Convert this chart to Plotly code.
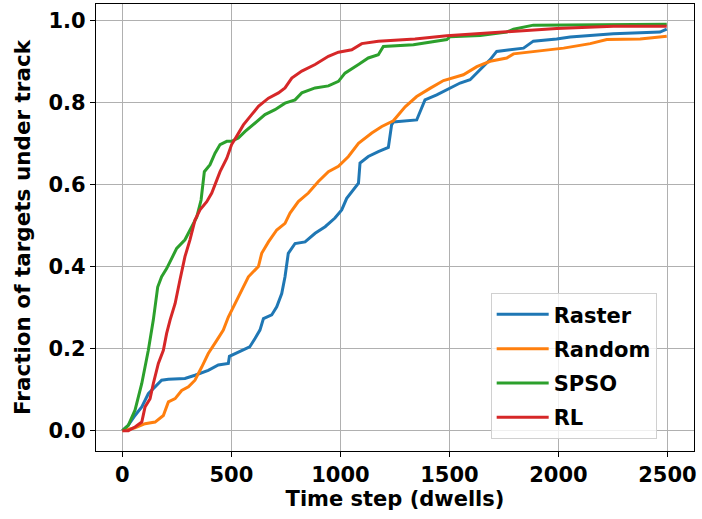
import plotly.graph_objects as go

raster_x = [0, 27, 58, 89, 119, 150, 180, 211, 287, 333, 394, 440, 486, 491, 532, 584, 609, 631, 647, 685, 708, 731, 746, 761, 792, 838, 884, 930, 975, 1006, 1029, 1083, 1090, 1128, 1174, 1220, 1235, 1243, 1350, 1388, 1442, 1488, 1549, 1595, 1641, 1687, 1717, 1840, 1885, 1992, 2054, 2252, 2466, 2497]
raster_y = [0, 0.013, 0.037, 0.058, 0.09, 0.107, 0.123, 0.125, 0.127, 0.135, 0.147, 0.16, 0.164, 0.181, 0.192, 0.204, 0.225, 0.245, 0.273, 0.282, 0.302, 0.334, 0.375, 0.432, 0.456, 0.46, 0.481, 0.497, 0.518, 0.538, 0.566, 0.603, 0.652, 0.668, 0.68, 0.69, 0.745, 0.752, 0.757, 0.806, 0.818, 0.83, 0.847, 0.855, 0.879, 0.904, 0.924, 0.932, 0.949, 0.954, 0.959, 0.967, 0.971, 0.978]

random_x = [0, 58, 104, 150, 188, 211, 242, 272, 303, 333, 364, 394, 433, 463, 486, 517, 547, 578, 624, 639, 670, 708, 746, 769, 807, 853, 899, 945, 991, 1037, 1083, 1144, 1190, 1243, 1297, 1350, 1411, 1473, 1564, 1626, 1687, 1763, 1794, 1901, 2024, 2146, 2222, 2375, 2497]
random_y = [0, 0.007, 0.017, 0.021, 0.037, 0.07, 0.078, 0.098, 0.107, 0.123, 0.155, 0.188, 0.22, 0.245, 0.277, 0.31, 0.338, 0.375, 0.4, 0.432, 0.46, 0.489, 0.505, 0.53, 0.558, 0.579, 0.607, 0.631, 0.644, 0.668, 0.7, 0.725, 0.741, 0.755, 0.789, 0.814, 0.834, 0.853, 0.867, 0.887, 0.9, 0.908, 0.918, 0.924, 0.932, 0.943, 0.953, 0.954, 0.961]

spso_x = [0, 27, 58, 89, 119, 142, 162, 180, 203, 249, 287, 318, 341, 361, 376, 402, 425, 448, 479, 501, 532, 563, 609, 654, 700, 746, 792, 823, 884, 945, 991, 1021, 1083, 1128, 1174, 1197, 1335, 1381, 1488, 1503, 1641, 1763, 1794, 1885, 2497]
spso_y = [0, 0.013, 0.05, 0.115, 0.196, 0.27, 0.35, 0.375, 0.395, 0.444, 0.465, 0.497, 0.52, 0.562, 0.631, 0.648, 0.676, 0.697, 0.705, 0.705, 0.713, 0.729, 0.749, 0.77, 0.782, 0.798, 0.806, 0.823, 0.835, 0.84, 0.851, 0.871, 0.892, 0.908, 0.916, 0.936, 0.94, 0.944, 0.953, 0.96, 0.963, 0.971, 0.978, 0.988, 0.99]

rl_x = [0, 27, 58, 89, 104, 127, 142, 165, 188, 203, 219, 242, 264, 287, 310, 333, 356, 387, 410, 425, 448, 479, 501, 524, 555, 593, 624, 670, 716, 746, 777, 823, 884, 945, 991, 1052, 1098, 1174, 1342, 1488, 1763, 1992, 2252, 2497]
rl_y = [0, 0, 0.009, 0.021, 0.058, 0.078, 0.115, 0.164, 0.196, 0.237, 0.27, 0.31, 0.367, 0.424, 0.465, 0.513, 0.538, 0.558, 0.579, 0.599, 0.631, 0.664, 0.697, 0.717, 0.745, 0.77, 0.79, 0.81, 0.823, 0.835, 0.859, 0.876, 0.892, 0.912, 0.922, 0.928, 0.943, 0.949, 0.954, 0.962, 0.971, 0.98, 0.985, 0.985]

x_ticks = [0, 500, 1000, 1500, 2000, 2500]
y_ticks = [0.0, 0.2, 0.4, 0.6, 0.8, 1.0]
y_tick_labels = ["0.0", "0.2", "0.4", "0.6", "0.8", "1.0"]

series = [
    ("Raster", raster_x, raster_y, "#1f77b4"),
    ("Random", random_x, random_y, "#ff7f0e"),
    ("SPSO", spso_x, spso_y, "#2ca02c"),
    ("RL", rl_x, rl_y, "#d62728"),
]

FONT = "DejaVu Sans"

fig = go.Figure()
for name, xs, ys, color in series:
    fig.add_trace(go.Scatter(x=xs, y=ys, mode="lines", name=name, legendgroup=name,
                             line=dict(color=color, width=3)))

axis_common = dict(
    showline=True, linecolor="black", linewidth=1.2, mirror=True,
    ticks="outside", ticklen=5, tickwidth=1.2, tickcolor="black",
    showgrid=True, gridcolor="#b0b0b0", gridwidth=1, zeroline=False,
    automargin=False,
    tickfont=dict(family=FONT, size=21, color="black", weight="bold"),
)

fig.update_layout(
    width=702, height=519,
    margin=dict(l=96, r=8, t=4, b=68),
    paper_bgcolor="white", plot_bgcolor="white",
    font=dict(family=FONT, color="black"),
    xaxis=dict(range=[-121, 2622], tickvals=x_ticks,
               title=dict(text="<b>Time step (dwells)</b>", font=dict(family=FONT, size=21), standoff=4),
               **axis_common),
    yaxis=dict(range=[-0.0495, 1.0395], tickvals=y_ticks, ticktext=y_tick_labels,
               title=dict(text="<b>Fraction of targets under track</b>", font=dict(family=FONT, size=21.5), standoff=11),
               **axis_common),
    legend=dict(x=0.66, y=0.353, xanchor="left", yanchor="top",
                bgcolor="rgba(255,255,255,0.8)", bordercolor="#d0d0d0", borderwidth=1,
                font=dict(family=FONT, size=21, color="black", weight="bold"),
                tracegroupgap=4, itemwidth=52),
    showlegend=True,
)

fig.write_html("out.html", config={"displayModeBar": False},
               post_script="document.body.style.margin='0';")
